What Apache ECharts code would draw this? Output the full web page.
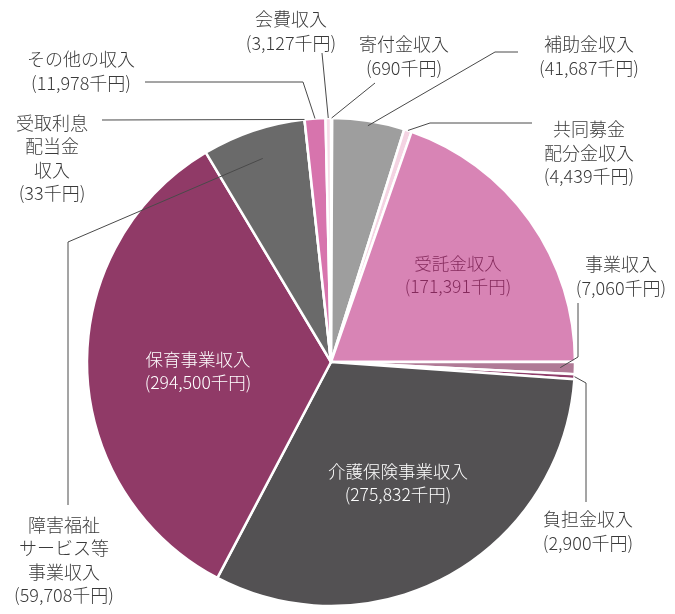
<!DOCTYPE html>
<html>
<head>
<meta charset="utf-8">
<script src="https://cdn.jsdelivr.net/npm/echarts@6/dist/echarts.min.js"></script>
<style>
  html, body { margin: 0; padding: 0; background: #fff; }
  #chart { width: 675px; height: 614px; }
</style>
</head>
<body>
<div id="chart"></div>
<script>
// income breakdown, clockwise from 12 o'clock (千円)
const names = [
  '寄付金収入', '補助金収入', '共同募金\n配分金収入', '受託金収入', '事業収入', '負担金収入',
  '介護保険事業収入', '保育事業収入', '障害福祉\nサービス等\n事業収入', '受取利息\n配当金\n収入',
  'その他の収入', '会費収入'
];
const values = [690, 41687, 4439, 171391, 7060, 2900, 275832, 294500, 59708, 33, 11978, 3127];
const colors = [
  '#a2a2a2', '#9e9e9e', '#f4d3e2', '#d884b5', '#b07a96', '#8e3c69',
  '#535153', '#903a67', '#6a6a6a', '#5a5a5a', '#d774ad', '#f6dde9'
];

const CX = 331, CY = 362, R = 244;

// label block centres
const labelPos = [
  [404, 56], [589, 56], [589, 153], [458, 275], [621, 276], [588, 531],
  [398, 483], [198, 371], [64, 560], [52, 158], [81, 71], [291, 31]
];
// slices whose label sits inside
const insideText = { 3: '#842a5c', 6: '#ffffff', 7: '#ffffff' };
// leader lines: k = how far along the radius the line starts, pts = bends + end
const guides = {
  0: { k: 1, pts: [[375, 83]] },
  1: { k: 0.98, pts: [[495, 52], [518, 52]] },
  2: { k: 1, pts: [[430, 123], [532, 123]] },
  4: { k: 0.94, pts: [[578, 357], [578, 303]] },
  5: { k: 1, pts: [[586, 383], [586, 502]] },
  8: { k: 0.88, pts: [[68, 242], [68, 505]] },
  9: { k: 1, pts: [[102, 120]] },
  10: { k: 1, pts: [[303, 82], [145, 82]] },
  11: { k: 1, pts: [[322, 53]] }
};

const fmt = (v) => String(v).replace(/\B(?=(\d{3})+(?!\d))/g, ',');

// coloured slices
const sliceData = names.map((name, i) => ({ name: name, value: values[i], itemStyle: { color: colors[i] } }));

// same slices, see-through, carrying the labels so leader lines sit above the fills
const labelData = names.map((name, i) => {
  const item = { name: name, value: values[i] };
  if (insideText[i]) {
    item.label = { color: insideText[i], fontSize: 17.5 };
    item.labelLine = { show: false };
  }
  return item;
});

const chart = echarts.init(document.getElementById('chart'));
chart.setOption({
  animation: false,
  backgroundColor: '#fff',
  series: [
    {
      type: 'pie',
      z: 2,
      center: [CX, CY],
      radius: R,
      startAngle: 90,
      clockwise: true,
      silent: true,
      itemStyle: { borderColor: '#fff', borderWidth: 2.5 },
      label: { show: false },
      labelLine: { show: false },
      data: sliceData
    },
    {
      type: 'pie',
      z: 3,
      center: [CX, CY],
      radius: R,
      startAngle: 90,
      clockwise: true,
      silent: true,
      avoidLabelOverlap: false,
      itemStyle: { color: 'rgba(0,0,0,0)', borderWidth: 0 },
      label: {
        show: true,
        position: 'outside',
        color: '#3a3a3a',
        fontFamily: 'Noto Sans CJK JP',
        fontWeight: 300,
        fontSize: 18,
        lineHeight: 23.5,
        align: 'center',
        formatter: (p) => p.name + '\n(' + fmt(p.value) + '千円)'
      },
      labelLine: { show: true, lineStyle: { color: '#4a4a4a', width: 1 } },
      labelLayout: (params) => {
        const i = params.dataIndex;
        const out = { x: labelPos[i][0], y: labelPos[i][1], align: 'center', verticalAlign: 'middle' };
        const g = guides[i];
        if (g && params.labelLinePoints) {
          const p0 = params.labelLinePoints[0];
          const start = [CX + (p0[0] - CX) * g.k, CY + (p0[1] - CY) * g.k];
          out.labelLinePoints = [start].concat(g.pts);
        }
        return out;
      },
      data: labelData
    }
  ]
});
</script>
</body>
</html>
